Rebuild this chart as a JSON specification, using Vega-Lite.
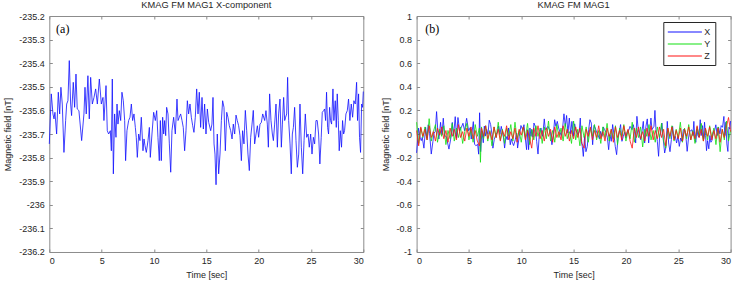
{
"$schema":"https://vega.github.io/schema/vega-lite/v6.json",
"padding":{"left":3.3,"top":0,"right":8,"bottom":0},
"spacing":15.3,
"config":{
 "font":"Liberation Sans",
 "view":{"stroke":null},
 "axis":{"grid":false,"domainColor":"#8c8c8c","tickColor":"#8c8c8c","tickSize":-3,"labelFontSize":9,"labelColor":"#262626","titleFontSize":9,"titleFontWeight":"normal","titleColor":"#262626","labelPadding":8,"titlePadding":6},
 "axisX":{"titlePadding":5},
 "title":{"fontSize":9.3,"fontWeight":"normal","color":"#262626","offset":2,"frame":"group"}
},
"datasets":{
"a":[
{"t":0,"v":-235.742},{"t":0.19,"v":-235.53},{"t":0.35,"v":-235.615},{"t":0.45,"v":-235.636},{"t":0.54,"v":-235.608},{"t":0.7,"v":-235.7},{"t":0.86,"v":-235.523},{"t":0.99,"v":-235.615},{"t":1.11,"v":-235.502},{"t":1.24,"v":-235.573},{"t":1.4,"v":-235.778},{"t":1.56,"v":-235.643},{"t":1.66,"v":-235.573},{"t":1.78,"v":-235.559},{"t":1.91,"v":-235.389},{"t":2.04,"v":-235.573},{"t":2.13,"v":-235.622},{"t":2.29,"v":-235.481},{"t":2.42,"v":-235.587},{"t":2.55,"v":-235.446},{"t":2.67,"v":-235.594},{"t":2.83,"v":-235.601},{"t":3.09,"v":-235.728},{"t":3.31,"v":-235.615},{"t":3.41,"v":-235.502},{"t":3.53,"v":-235.615},{"t":3.69,"v":-235.453},{"t":3.82,"v":-235.636},{"t":3.95,"v":-235.46},{"t":4.11,"v":-235.573},{"t":4.27,"v":-235.545},{"t":4.43,"v":-235.509},{"t":4.59,"v":-235.573},{"t":4.78,"v":-235.467},{"t":4.97,"v":-235.573},{"t":5.13,"v":-235.545},{"t":5.22,"v":-235.643},{"t":5.42,"v":-235.495},{"t":5.54,"v":-235.686},{"t":5.67,"v":-235.7},{"t":5.83,"v":-235.686},{"t":5.93,"v":-235.771},{"t":6.02,"v":-235.467},{"t":6.12,"v":-235.869},{"t":6.24,"v":-235.615},{"t":6.37,"v":-235.714},{"t":6.47,"v":-235.573},{"t":6.56,"v":-235.658},{"t":6.69,"v":-235.601},{"t":6.82,"v":-235.643},{"t":6.94,"v":-235.523},{"t":7.07,"v":-235.559},{"t":7.2,"v":-235.643},{"t":7.29,"v":-235.813},{"t":7.42,"v":-235.686},{"t":7.58,"v":-235.643},{"t":7.71,"v":-235.629},{"t":7.84,"v":-235.573},{"t":7.96,"v":-235.643},{"t":8.09,"v":-235.615},{"t":8.22,"v":-235.672},{"t":8.31,"v":-235.714},{"t":8.41,"v":-235.799},{"t":8.54,"v":-235.7},{"t":8.66,"v":-235.728},{"t":8.79,"v":-235.629},{"t":8.95,"v":-235.771},{"t":9.05,"v":-235.721},{"t":9.14,"v":-235.749},{"t":9.27,"v":-235.778},{"t":9.43,"v":-235.728},{"t":9.56,"v":-235.672},{"t":9.65,"v":-235.799},{"t":9.81,"v":-235.7},{"t":9.97,"v":-235.608},{"t":10.13,"v":-235.643},{"t":10.26,"v":-235.601},{"t":10.38,"v":-235.714},{"t":10.51,"v":-235.813},{"t":10.61,"v":-235.643},{"t":10.7,"v":-235.813},{"t":10.83,"v":-235.629},{"t":10.93,"v":-235.7},{"t":11.02,"v":-235.643},{"t":11.12,"v":-235.707},{"t":11.21,"v":-235.587},{"t":11.34,"v":-235.615},{"t":11.47,"v":-235.742},{"t":11.6,"v":-235.862},{"t":11.72,"v":-235.686},{"t":11.88,"v":-235.629},{"t":12.04,"v":-235.7},{"t":12.2,"v":-235.552},{"t":12.3,"v":-235.643},{"t":12.42,"v":-235.629},{"t":12.55,"v":-235.615},{"t":12.68,"v":-235.643},{"t":12.8,"v":-235.672},{"t":12.93,"v":-235.771},{"t":13.06,"v":-235.686},{"t":13.19,"v":-235.559},{"t":13.31,"v":-235.615},{"t":13.44,"v":-235.573},{"t":13.57,"v":-235.629},{"t":13.7,"v":-235.665},{"t":13.82,"v":-235.693},{"t":13.95,"v":-235.629},{"t":14.08,"v":-235.509},{"t":14.21,"v":-235.615},{"t":14.33,"v":-235.523},{"t":14.46,"v":-235.672},{"t":14.59,"v":-235.545},{"t":14.72,"v":-235.679},{"t":14.84,"v":-235.573},{"t":14.97,"v":-235.7},{"t":15.1,"v":-235.594},{"t":15.23,"v":-235.651},{"t":15.42,"v":-235.686},{"t":15.54,"v":-235.658},{"t":15.64,"v":-235.545},{"t":15.74,"v":-235.742},{"t":15.83,"v":-235.785},{"t":15.93,"v":-235.915},{"t":16.05,"v":-235.7},{"t":16.18,"v":-235.869},{"t":16.31,"v":-235.785},{"t":16.44,"v":-235.643},{"t":16.56,"v":-235.559},{"t":16.69,"v":-235.587},{"t":16.82,"v":-235.771},{"t":16.95,"v":-235.608},{"t":17.07,"v":-235.629},{"t":17.2,"v":-235.665},{"t":17.33,"v":-235.686},{"t":17.46,"v":-235.721},{"t":17.58,"v":-235.658},{"t":17.71,"v":-235.7},{"t":17.84,"v":-235.62},{"t":17.96,"v":-235.643},{"t":18.09,"v":-235.665},{"t":18.22,"v":-235.707},{"t":18.35,"v":-235.813},{"t":18.47,"v":-235.686},{"t":18.6,"v":-235.742},{"t":18.73,"v":-235.6},{"t":18.86,"v":-235.686},{"t":18.98,"v":-235.785},{"t":19.11,"v":-235.855},{"t":19.24,"v":-235.714},{"t":19.37,"v":-235.658},{"t":19.49,"v":-235.6},{"t":19.62,"v":-235.742},{"t":19.75,"v":-235.7},{"t":19.88,"v":-235.665},{"t":20,"v":-235.714},{"t":20.13,"v":-235.658},{"t":20.26,"v":-235.651},{"t":20.39,"v":-235.615},{"t":20.58,"v":-235.643},{"t":20.7,"v":-235.601},{"t":20.83,"v":-235.658},{"t":20.93,"v":-235.756},{"t":21.05,"v":-235.53},{"t":21.18,"v":-235.643},{"t":21.31,"v":-235.7},{"t":21.41,"v":-235.728},{"t":21.53,"v":-235.658},{"t":21.66,"v":-235.573},{"t":21.79,"v":-235.756},{"t":21.91,"v":-235.615},{"t":22.04,"v":-235.552},{"t":22.17,"v":-235.756},{"t":22.27,"v":-235.658},{"t":22.39,"v":-235.545},{"t":22.49,"v":-235.643},{"t":22.58,"v":-235.629},{"t":22.68,"v":-235.615},{"t":22.77,"v":-235.46},{"t":22.87,"v":-235.643},{"t":23,"v":-235.742},{"t":23.12,"v":-235.869},{"t":23.22,"v":-235.7},{"t":23.32,"v":-235.672},{"t":23.44,"v":-235.587},{"t":23.57,"v":-235.728},{"t":23.7,"v":-235.841},{"t":23.83,"v":-235.785},{"t":23.95,"v":-235.573},{"t":24.08,"v":-235.756},{"t":24.21,"v":-235.869},{"t":24.34,"v":-235.728},{"t":24.46,"v":-235.615},{"t":24.59,"v":-235.714},{"t":24.72,"v":-235.7},{"t":24.84,"v":-235.756},{"t":24.97,"v":-235.7},{"t":25.1,"v":-235.785},{"t":25.23,"v":-235.714},{"t":25.35,"v":-235.742},{"t":25.48,"v":-235.643},{"t":25.6,"v":-235.643},{"t":25.73,"v":-235.7},{"t":25.85,"v":-235.827},{"t":25.98,"v":-235.714},{"t":26.08,"v":-235.608},{"t":26.21,"v":-235.601},{"t":26.3,"v":-235.594},{"t":26.4,"v":-235.643},{"t":26.49,"v":-235.523},{"t":26.59,"v":-235.672},{"t":26.68,"v":-235.7},{"t":26.78,"v":-235.587},{"t":26.87,"v":-235.643},{"t":26.97,"v":-235.658},{"t":27.1,"v":-235.509},{"t":27.19,"v":-235.643},{"t":27.32,"v":-235.559},{"t":27.42,"v":-235.672},{"t":27.51,"v":-235.53},{"t":27.61,"v":-235.643},{"t":27.7,"v":-235.771},{"t":27.8,"v":-235.686},{"t":27.92,"v":-235.756},{"t":28.02,"v":-235.643},{"t":28.12,"v":-235.7},{"t":28.21,"v":-235.686},{"t":28.34,"v":-235.615},{"t":28.47,"v":-235.601},{"t":28.59,"v":-235.552},{"t":28.72,"v":-235.643},{"t":28.85,"v":-235.573},{"t":28.98,"v":-235.629},{"t":29.1,"v":-235.559},{"t":29.23,"v":-235.573},{"t":29.36,"v":-235.481},{"t":29.45,"v":-235.643},{"t":29.55,"v":-235.53},{"t":29.64,"v":-235.714},{"t":29.74,"v":-235.778},{"t":29.84,"v":-235.573},{"t":29.93,"v":-235.587},{"t":30,"v":-235.52}
],
"b":[
{"t":0,"c":"X","v":-0.16},{"t":0.19,"c":"X","v":0.05},{"t":0.35,"c":"X","v":-0.035},{"t":0.45,"c":"X","v":-0.056},{"t":0.54,"c":"X","v":-0.028},{"t":0.7,"c":"X","v":-0.12},{"t":0.86,"c":"X","v":0.057},{"t":0.99,"c":"X","v":-0.035},{"t":1.11,"c":"X","v":0.078},{"t":1.24,"c":"X","v":0.007},{"t":1.4,"c":"X","v":-0.17},{"t":1.56,"c":"X","v":-0.063},{"t":1.66,"c":"X","v":0.007},{"t":1.78,"c":"X","v":0.021},{"t":1.91,"c":"X","v":0.19},{"t":2.04,"c":"X","v":0.007},{"t":2.13,"c":"X","v":-0.042},{"t":2.29,"c":"X","v":0.099},{"t":2.42,"c":"X","v":-0.007},{"t":2.55,"c":"X","v":0.134},{"t":2.67,"c":"X","v":-0.014},{"t":2.83,"c":"X","v":-0.021},{"t":3.09,"c":"X","v":-0.128},{"t":3.31,"c":"X","v":-0.015},{"t":3.41,"c":"X","v":0.098},{"t":3.53,"c":"X","v":-0.015},{"t":3.69,"c":"X","v":0.147},{"t":3.82,"c":"X","v":-0.036},{"t":3.95,"c":"X","v":0.14},{"t":4.11,"c":"X","v":0.027},{"t":4.27,"c":"X","v":0.055},{"t":4.43,"c":"X","v":0.091},{"t":4.59,"c":"X","v":0.027},{"t":4.78,"c":"X","v":0.133},{"t":4.97,"c":"X","v":0.027},{"t":5.13,"c":"X","v":0.055},{"t":5.22,"c":"X","v":-0.043},{"t":5.42,"c":"X","v":0.105},{"t":5.54,"c":"X","v":-0.086},{"t":5.67,"c":"X","v":-0.1},{"t":5.83,"c":"X","v":-0.086},{"t":5.93,"c":"X","v":-0.171},{"t":6.02,"c":"X","v":0.18},{"t":6.12,"c":"X","v":-0.15},{"t":6.24,"c":"X","v":0.025},{"t":6.37,"c":"X","v":-0.074},{"t":6.47,"c":"X","v":0.067},{"t":6.56,"c":"X","v":-0.018},{"t":6.69,"c":"X","v":0.039},{"t":6.82,"c":"X","v":-0.003},{"t":6.94,"c":"X","v":0.117},{"t":7.07,"c":"X","v":0.081},{"t":7.2,"c":"X","v":-0.003},{"t":7.29,"c":"X","v":-0.12},{"t":7.42,"c":"X","v":-0.046},{"t":7.58,"c":"X","v":-0.003},{"t":7.71,"c":"X","v":0.011},{"t":7.84,"c":"X","v":0.067},{"t":7.96,"c":"X","v":-0.003},{"t":8.09,"c":"X","v":0.065},{"t":8.22,"c":"X","v":0.008},{"t":8.31,"c":"X","v":-0.034},{"t":8.41,"c":"X","v":-0.119},{"t":8.54,"c":"X","v":-0.02},{"t":8.66,"c":"X","v":-0.048},{"t":8.79,"c":"X","v":0.051},{"t":8.95,"c":"X","v":-0.091},{"t":9.05,"c":"X","v":-0.041},{"t":9.14,"c":"X","v":-0.069},{"t":9.27,"c":"X","v":-0.098},{"t":9.43,"c":"X","v":-0.048},{"t":9.56,"c":"X","v":0.008},{"t":9.65,"c":"X","v":-0.119},{"t":9.81,"c":"X","v":-0.02},{"t":9.97,"c":"X","v":0.072},{"t":10.13,"c":"X","v":0.037},{"t":10.26,"c":"X","v":0.079},{"t":10.38,"c":"X","v":-0.034},{"t":10.51,"c":"X","v":-0.133},{"t":10.61,"c":"X","v":0.037},{"t":10.7,"c":"X","v":-0.133},{"t":10.83,"c":"X","v":0.051},{"t":10.93,"c":"X","v":-0.02},{"t":11.02,"c":"X","v":0.037},{"t":11.12,"c":"X","v":-0.027},{"t":11.21,"c":"X","v":0.093},{"t":11.34,"c":"X","v":0.065},{"t":11.47,"c":"X","v":-0.062},{"t":11.6,"c":"X","v":-0.17},{"t":11.72,"c":"X","v":-0.006},{"t":11.88,"c":"X","v":0.051},{"t":12.04,"c":"X","v":-0.02},{"t":12.2,"c":"X","v":0.128},{"t":12.3,"c":"X","v":0.037},{"t":12.42,"c":"X","v":0.051},{"t":12.55,"c":"X","v":0.065},{"t":12.68,"c":"X","v":0.037},{"t":12.8,"c":"X","v":0.008},{"t":12.93,"c":"X","v":-0.091},{"t":13.06,"c":"X","v":-0.006},{"t":13.19,"c":"X","v":0.121},{"t":13.31,"c":"X","v":0.065},{"t":13.44,"c":"X","v":0.107},{"t":13.57,"c":"X","v":0.051},{"t":13.7,"c":"X","v":0.015},{"t":13.82,"c":"X","v":-0.013},{"t":13.95,"c":"X","v":0.051},{"t":14.08,"c":"X","v":0.171},{"t":14.21,"c":"X","v":0.065},{"t":14.33,"c":"X","v":0.157},{"t":14.46,"c":"X","v":0.008},{"t":14.59,"c":"X","v":0.135},{"t":14.72,"c":"X","v":0.001},{"t":14.84,"c":"X","v":0.107},{"t":14.97,"c":"X","v":-0.02},{"t":15.1,"c":"X","v":0.086},{"t":15.23,"c":"X","v":0.029},{"t":15.42,"c":"X","v":-0.006},{"t":15.54,"c":"X","v":0.022},{"t":15.64,"c":"X","v":0.135},{"t":15.74,"c":"X","v":-0.062},{"t":15.83,"c":"X","v":-0.105},{"t":15.93,"c":"X","v":-0.19},{"t":16.05,"c":"X","v":-0.02},{"t":16.18,"c":"X","v":-0.15},{"t":16.31,"c":"X","v":-0.105},{"t":16.44,"c":"X","v":0.037},{"t":16.56,"c":"X","v":0.121},{"t":16.69,"c":"X","v":0.093},{"t":16.82,"c":"X","v":-0.091},{"t":16.95,"c":"X","v":0.072},{"t":17.07,"c":"X","v":0.051},{"t":17.2,"c":"X","v":0.015},{"t":17.33,"c":"X","v":-0.006},{"t":17.46,"c":"X","v":-0.041},{"t":17.58,"c":"X","v":0.022},{"t":17.71,"c":"X","v":-0.02},{"t":17.84,"c":"X","v":0.06},{"t":17.96,"c":"X","v":0.037},{"t":18.09,"c":"X","v":0.015},{"t":18.22,"c":"X","v":-0.027},{"t":18.35,"c":"X","v":-0.133},{"t":18.47,"c":"X","v":-0.006},{"t":18.6,"c":"X","v":-0.062},{"t":18.73,"c":"X","v":0.08},{"t":18.86,"c":"X","v":-0.006},{"t":18.98,"c":"X","v":-0.105},{"t":19.11,"c":"X","v":-0.175},{"t":19.24,"c":"X","v":-0.034},{"t":19.37,"c":"X","v":0.022},{"t":19.49,"c":"X","v":0.08},{"t":19.62,"c":"X","v":-0.062},{"t":19.75,"c":"X","v":-0.02},{"t":19.88,"c":"X","v":0.015},{"t":20,"c":"X","v":-0.034},{"t":20.13,"c":"X","v":0.022},{"t":20.26,"c":"X","v":0.029},{"t":20.39,"c":"X","v":0.065},{"t":20.58,"c":"X","v":0.037},{"t":20.7,"c":"X","v":0.079},{"t":20.83,"c":"X","v":0.022},{"t":20.93,"c":"X","v":-0.076},{"t":21.05,"c":"X","v":0.15},{"t":21.18,"c":"X","v":0.037},{"t":21.31,"c":"X","v":-0.02},{"t":21.41,"c":"X","v":-0.048},{"t":21.53,"c":"X","v":0.022},{"t":21.66,"c":"X","v":0.107},{"t":21.79,"c":"X","v":-0.076},{"t":21.91,"c":"X","v":0.065},{"t":22.04,"c":"X","v":0.128},{"t":22.17,"c":"X","v":-0.076},{"t":22.27,"c":"X","v":0.022},{"t":22.39,"c":"X","v":0.135},{"t":22.49,"c":"X","v":0.037},{"t":22.58,"c":"X","v":0.051},{"t":22.68,"c":"X","v":0.065},{"t":22.77,"c":"X","v":0.2},{"t":22.87,"c":"X","v":0.037},{"t":23,"c":"X","v":-0.062},{"t":23.12,"c":"X","v":-0.189},{"t":23.22,"c":"X","v":-0.02},{"t":23.32,"c":"X","v":0.008},{"t":23.44,"c":"X","v":0.093},{"t":23.57,"c":"X","v":-0.048},{"t":23.7,"c":"X","v":-0.161},{"t":23.83,"c":"X","v":-0.105},{"t":23.95,"c":"X","v":0.107},{"t":24.08,"c":"X","v":-0.076},{"t":24.21,"c":"X","v":-0.15},{"t":24.34,"c":"X","v":-0.048},{"t":24.46,"c":"X","v":0.065},{"t":24.59,"c":"X","v":-0.034},{"t":24.72,"c":"X","v":-0.02},{"t":24.84,"c":"X","v":-0.076},{"t":24.97,"c":"X","v":-0.02},{"t":25.1,"c":"X","v":-0.105},{"t":25.23,"c":"X","v":-0.034},{"t":25.35,"c":"X","v":-0.062},{"t":25.48,"c":"X","v":0.037},{"t":25.6,"c":"X","v":0.037},{"t":25.73,"c":"X","v":-0.02},{"t":25.85,"c":"X","v":-0.147},{"t":25.98,"c":"X","v":-0.034},{"t":26.08,"c":"X","v":0.022},{"t":26.21,"c":"X","v":0.029},{"t":26.3,"c":"X","v":0.036},{"t":26.4,"c":"X","v":-0.013},{"t":26.49,"c":"X","v":0.107},{"t":26.59,"c":"X","v":-0.042},{"t":26.68,"c":"X","v":-0.07},{"t":26.78,"c":"X","v":0.043},{"t":26.87,"c":"X","v":-0.013},{"t":26.97,"c":"X","v":-0.028},{"t":27.1,"c":"X","v":0.121},{"t":27.19,"c":"X","v":-0.013},{"t":27.32,"c":"X","v":0.071},{"t":27.42,"c":"X","v":-0.042},{"t":27.51,"c":"X","v":0.1},{"t":27.61,"c":"X","v":-0.013},{"t":27.7,"c":"X","v":-0.141},{"t":27.8,"c":"X","v":-0.056},{"t":27.92,"c":"X","v":-0.126},{"t":28.02,"c":"X","v":-0.013},{"t":28.12,"c":"X","v":-0.07},{"t":28.21,"c":"X","v":-0.056},{"t":28.34,"c":"X","v":0.015},{"t":28.47,"c":"X","v":0.029},{"t":28.59,"c":"X","v":0.078},{"t":28.72,"c":"X","v":-0.013},{"t":28.85,"c":"X","v":0.057},{"t":28.98,"c":"X","v":0.001},{"t":29.1,"c":"X","v":0.071},{"t":29.23,"c":"X","v":0.057},{"t":29.36,"c":"X","v":0.149},{"t":29.45,"c":"X","v":-0.013},{"t":29.55,"c":"X","v":0.1},{"t":29.64,"c":"X","v":-0.084},{"t":29.74,"c":"X","v":-0.148},{"t":29.84,"c":"X","v":0.057},{"t":29.93,"c":"X","v":0.043},{"t":30,"c":"X","v":0.11},
{"t":0,"c":"Y","v":0.1},{"t":0.2,"c":"Y","v":-0.08},{"t":0.4,"c":"Y","v":0.05},{"t":0.6,"c":"Y","v":-0.03},{"t":0.8,"c":"Y","v":0.06},{"t":1,"c":"Y","v":-0.05},{"t":1.2,"c":"Y","v":0.13},{"t":1.4,"c":"Y","v":-0.06},{"t":1.6,"c":"Y","v":0.02},{"t":1.8,"c":"Y","v":0.08},{"t":2,"c":"Y","v":-0.07},{"t":2.2,"c":"Y","v":0.04},{"t":2.4,"c":"Y","v":-0.02},{"t":2.6,"c":"Y","v":0.07},{"t":2.8,"c":"Y","v":-0.09},{"t":3,"c":"Y","v":0.03},{"t":3.2,"c":"Y","v":-0.04},{"t":3.4,"c":"Y","v":0.09},{"t":3.6,"c":"Y","v":-0.06},{"t":3.8,"c":"Y","v":0.05},{"t":4,"c":"Y","v":-0.03},{"t":4.2,"c":"Y","v":0.06},{"t":4.4,"c":"Y","v":-0.08},{"t":4.6,"c":"Y","v":0.02},{"t":4.8,"c":"Y","v":0.09},{"t":5,"c":"Y","v":-0.05},{"t":5.2,"c":"Y","v":0.04},{"t":5.4,"c":"Y","v":-0.07},{"t":5.6,"c":"Y","v":0.08},{"t":5.8,"c":"Y","v":-0.02},{"t":6,"c":"Y","v":0.05},{"t":6.1,"c":"Y","v":-0.24},{"t":6.2,"c":"Y","v":0.06},{"t":6.4,"c":"Y","v":-0.04},{"t":6.6,"c":"Y","v":0.07},{"t":6.8,"c":"Y","v":-0.06},{"t":7,"c":"Y","v":0.03},{"t":7.2,"c":"Y","v":-0.1},{"t":7.4,"c":"Y","v":0.06},{"t":7.6,"c":"Y","v":-0.03},{"t":7.8,"c":"Y","v":0.1},{"t":8,"c":"Y","v":-0.05},{"t":8.2,"c":"Y","v":0.04},{"t":8.4,"c":"Y","v":-0.08},{"t":8.6,"c":"Y","v":0.05},{"t":8.8,"c":"Y","v":-0.02},{"t":9,"c":"Y","v":0.08},{"t":9.2,"c":"Y","v":-0.06},{"t":9.4,"c":"Y","v":0.1},{"t":9.6,"c":"Y","v":-0.04},{"t":9.8,"c":"Y","v":0.03},{"t":10,"c":"Y","v":-0.07},{"t":10.2,"c":"Y","v":0.06},{"t":10.4,"c":"Y","v":-0.03},{"t":10.6,"c":"Y","v":0.09},{"t":10.8,"c":"Y","v":-0.09},{"t":11,"c":"Y","v":0.04},{"t":11.2,"c":"Y","v":-0.05},{"t":11.4,"c":"Y","v":0.07},{"t":11.6,"c":"Y","v":-0.02},{"t":11.8,"c":"Y","v":0.05},{"t":12,"c":"Y","v":-0.08},{"t":12.2,"c":"Y","v":0.06},{"t":12.4,"c":"Y","v":-0.04},{"t":12.6,"c":"Y","v":0.11},{"t":12.8,"c":"Y","v":-0.06},{"t":13,"c":"Y","v":0.03},{"t":13.2,"c":"Y","v":-0.07},{"t":13.4,"c":"Y","v":0.08},{"t":13.6,"c":"Y","v":-0.03},{"t":13.8,"c":"Y","v":0.05},{"t":14,"c":"Y","v":-0.06},{"t":14.2,"c":"Y","v":0.09},{"t":14.4,"c":"Y","v":-0.04},{"t":14.6,"c":"Y","v":0.02},{"t":14.8,"c":"Y","v":-0.08},{"t":15,"c":"Y","v":0.11},{"t":15.2,"c":"Y","v":-0.05},{"t":15.4,"c":"Y","v":0.04},{"t":15.6,"c":"Y","v":-0.1},{"t":15.8,"c":"Y","v":0.07},{"t":16,"c":"Y","v":-0.03},{"t":16.2,"c":"Y","v":0.06},{"t":16.4,"c":"Y","v":-0.07},{"t":16.6,"c":"Y","v":0.05},{"t":16.8,"c":"Y","v":-0.02},{"t":17,"c":"Y","v":0.08},{"t":17.2,"c":"Y","v":-0.05},{"t":17.4,"c":"Y","v":0.03},{"t":17.6,"c":"Y","v":-0.08},{"t":17.8,"c":"Y","v":0.06},{"t":18,"c":"Y","v":-0.03},{"t":18.2,"c":"Y","v":0.09},{"t":18.4,"c":"Y","v":-0.06},{"t":18.6,"c":"Y","v":0.04},{"t":18.8,"c":"Y","v":-0.04},{"t":19,"c":"Y","v":0.07},{"t":19.2,"c":"Y","v":-0.09},{"t":19.4,"c":"Y","v":0.05},{"t":19.6,"c":"Y","v":-0.02},{"t":19.8,"c":"Y","v":0.08},{"t":20,"c":"Y","v":-0.06},{"t":20.2,"c":"Y","v":0.03},{"t":20.4,"c":"Y","v":-0.04},{"t":20.6,"c":"Y","v":0.1},{"t":20.8,"c":"Y","v":-0.07},{"t":21,"c":"Y","v":0.05},{"t":21.2,"c":"Y","v":-0.03},{"t":21.4,"c":"Y","v":0.06},{"t":21.6,"c":"Y","v":-0.11},{"t":21.8,"c":"Y","v":0.04},{"t":22,"c":"Y","v":-0.02},{"t":22.2,"c":"Y","v":0.08},{"t":22.4,"c":"Y","v":-0.05},{"t":22.6,"c":"Y","v":0.03},{"t":22.8,"c":"Y","v":-0.07},{"t":23,"c":"Y","v":0.06},{"t":23.2,"c":"Y","v":-0.03},{"t":23.4,"c":"Y","v":0.09},{"t":23.6,"c":"Y","v":-0.06},{"t":23.8,"c":"Y","v":-0.12},{"t":24,"c":"Y","v":0.05},{"t":24.2,"c":"Y","v":-0.04},{"t":24.4,"c":"Y","v":0.07},{"t":24.6,"c":"Y","v":-0.06},{"t":24.8,"c":"Y","v":0.04},{"t":25,"c":"Y","v":-0.03},{"t":25.2,"c":"Y","v":0.1},{"t":25.4,"c":"Y","v":-0.07},{"t":25.6,"c":"Y","v":0.05},{"t":25.8,"c":"Y","v":-0.04},{"t":26,"c":"Y","v":0.08},{"t":26.2,"c":"Y","v":-0.05},{"t":26.4,"c":"Y","v":0.03},{"t":26.6,"c":"Y","v":-0.08},{"t":26.8,"c":"Y","v":0.06},{"t":27,"c":"Y","v":-0.02},{"t":27.2,"c":"Y","v":0.09},{"t":27.4,"c":"Y","v":-0.06},{"t":27.6,"c":"Y","v":0.04},{"t":27.8,"c":"Y","v":-0.05},{"t":28,"c":"Y","v":0.07},{"t":28.2,"c":"Y","v":-0.03},{"t":28.4,"c":"Y","v":0.05},{"t":28.6,"c":"Y","v":-0.09},{"t":28.8,"c":"Y","v":0.06},{"t":29,"c":"Y","v":-0.15},{"t":29.2,"c":"Y","v":0.04},{"t":29.4,"c":"Y","v":-0.05},{"t":29.6,"c":"Y","v":0.11},{"t":29.8,"c":"Y","v":-0.06},{"t":30,"c":"Y","v":0.03},
{"t":0,"c":"Z","v":0.03},{"t":0.2,"c":"Z","v":-0.1},{"t":0.4,"c":"Z","v":0.06},{"t":0.6,"c":"Z","v":-0.02},{"t":0.8,"c":"Z","v":0.04},{"t":1,"c":"Z","v":-0.05},{"t":1.2,"c":"Z","v":0.07},{"t":1.4,"c":"Z","v":-0.03},{"t":1.6,"c":"Z","v":0.02},{"t":1.8,"c":"Z","v":-0.06},{"t":2,"c":"Z","v":0.05},{"t":2.2,"c":"Z","v":-0.01},{"t":2.4,"c":"Z","v":0.06},{"t":2.6,"c":"Z","v":-0.04},{"t":2.8,"c":"Z","v":0.03},{"t":3,"c":"Z","v":-0.07},{"t":3.2,"c":"Z","v":0.05},{"t":3.4,"c":"Z","v":-0.02},{"t":3.6,"c":"Z","v":0.04},{"t":3.8,"c":"Z","v":-0.05},{"t":4,"c":"Z","v":0.08},{"t":4.2,"c":"Z","v":-0.03},{"t":4.4,"c":"Z","v":0.02},{"t":4.6,"c":"Z","v":-0.06},{"t":4.8,"c":"Z","v":0.05},{"t":5,"c":"Z","v":-0.02},{"t":5.2,"c":"Z","v":0.06},{"t":5.4,"c":"Z","v":-0.04},{"t":5.6,"c":"Z","v":0.03},{"t":5.8,"c":"Z","v":-0.06},{"t":6,"c":"Z","v":-0.1},{"t":6.2,"c":"Z","v":0.05},{"t":6.4,"c":"Z","v":-0.02},{"t":6.6,"c":"Z","v":0.07},{"t":6.8,"c":"Z","v":-0.04},{"t":7,"c":"Z","v":0.02},{"t":7.2,"c":"Z","v":-0.05},{"t":7.4,"c":"Z","v":0.06},{"t":7.6,"c":"Z","v":-0.03},{"t":7.8,"c":"Z","v":0.04},{"t":8,"c":"Z","v":-0.06},{"t":8.2,"c":"Z","v":0.03},{"t":8.4,"c":"Z","v":-0.02},{"t":8.6,"c":"Z","v":0.07},{"t":8.8,"c":"Z","v":-0.05},{"t":9,"c":"Z","v":0.02},{"t":9.2,"c":"Z","v":-0.04},{"t":9.4,"c":"Z","v":0.05},{"t":9.6,"c":"Z","v":-0.07},{"t":9.8,"c":"Z","v":0.04},{"t":10,"c":"Z","v":-0.01},{"t":10.2,"c":"Z","v":0.06},{"t":10.4,"c":"Z","v":-0.05},{"t":10.6,"c":"Z","v":0.03},{"t":10.8,"c":"Z","v":-0.04},{"t":11,"c":"Z","v":-0.12},{"t":11.2,"c":"Z","v":0.05},{"t":11.4,"c":"Z","v":-0.02},{"t":11.6,"c":"Z","v":0.07},{"t":11.8,"c":"Z","v":-0.04},{"t":12,"c":"Z","v":0.03},{"t":12.2,"c":"Z","v":-0.06},{"t":12.4,"c":"Z","v":0.05},{"t":12.6,"c":"Z","v":-0.02},{"t":12.8,"c":"Z","v":0.04},{"t":13,"c":"Z","v":-0.07},{"t":13.2,"c":"Z","v":0.06},{"t":13.4,"c":"Z","v":-0.03},{"t":13.6,"c":"Z","v":0.02},{"t":13.8,"c":"Z","v":-0.05},{"t":14,"c":"Z","v":0.07},{"t":14.2,"c":"Z","v":-0.02},{"t":14.4,"c":"Z","v":0.04},{"t":14.6,"c":"Z","v":-0.06},{"t":14.8,"c":"Z","v":0.03},{"t":15,"c":"Z","v":-0.04},{"t":15.2,"c":"Z","v":0.06},{"t":15.4,"c":"Z","v":-0.03},{"t":15.6,"c":"Z","v":0.05},{"t":15.8,"c":"Z","v":-0.08},{"t":16,"c":"Z","v":-0.12},{"t":16.2,"c":"Z","v":0.04},{"t":16.4,"c":"Z","v":-0.02},{"t":16.6,"c":"Z","v":0.06},{"t":16.8,"c":"Z","v":-0.05},{"t":17,"c":"Z","v":0.03},{"t":17.2,"c":"Z","v":-0.03},{"t":17.4,"c":"Z","v":0.07},{"t":17.6,"c":"Z","v":-0.04},{"t":17.8,"c":"Z","v":0.02},{"t":18,"c":"Z","v":-0.06},{"t":18.2,"c":"Z","v":0.05},{"t":18.4,"c":"Z","v":-0.02},{"t":18.6,"c":"Z","v":0.04},{"t":18.8,"c":"Z","v":-0.07},{"t":19,"c":"Z","v":0.06},{"t":19.2,"c":"Z","v":-0.03},{"t":19.4,"c":"Z","v":0.03},{"t":19.6,"c":"Z","v":-0.05},{"t":19.8,"c":"Z","v":0.07},{"t":20,"c":"Z","v":-0.02},{"t":20.2,"c":"Z","v":0.04},{"t":20.4,"c":"Z","v":-0.06},{"t":20.6,"c":"Z","v":-0.12},{"t":20.8,"c":"Z","v":0.05},{"t":21,"c":"Z","v":-0.03},{"t":21.2,"c":"Z","v":0.06},{"t":21.4,"c":"Z","v":-0.04},{"t":21.6,"c":"Z","v":0.02},{"t":21.8,"c":"Z","v":-0.06},{"t":22,"c":"Z","v":0.05},{"t":22.2,"c":"Z","v":-0.02},{"t":22.4,"c":"Z","v":0.07},{"t":22.6,"c":"Z","v":-0.05},{"t":22.8,"c":"Z","v":0.03},{"t":23,"c":"Z","v":-0.04},{"t":23.2,"c":"Z","v":0.06},{"t":23.4,"c":"Z","v":-0.03},{"t":23.6,"c":"Z","v":0.04},{"t":23.8,"c":"Z","v":-0.1},{"t":24,"c":"Z","v":0.05},{"t":24.2,"c":"Z","v":-0.02},{"t":24.4,"c":"Z","v":0.06},{"t":24.6,"c":"Z","v":-0.05},{"t":24.8,"c":"Z","v":0.03},{"t":25,"c":"Z","v":-0.04},{"t":25.2,"c":"Z","v":0.05},{"t":25.4,"c":"Z","v":-0.06},{"t":25.6,"c":"Z","v":0.04},{"t":25.8,"c":"Z","v":-0.02},{"t":26,"c":"Z","v":0.06},{"t":26.2,"c":"Z","v":-0.05},{"t":26.4,"c":"Z","v":0.02},{"t":26.6,"c":"Z","v":-0.04},{"t":26.8,"c":"Z","v":0.07},{"t":27,"c":"Z","v":-0.03},{"t":27.2,"c":"Z","v":0.04},{"t":27.4,"c":"Z","v":-0.06},{"t":27.6,"c":"Z","v":0.05},{"t":27.8,"c":"Z","v":-0.02},{"t":28,"c":"Z","v":0.06},{"t":28.2,"c":"Z","v":-0.05},{"t":28.4,"c":"Z","v":0.03},{"t":28.6,"c":"Z","v":-0.04},{"t":28.8,"c":"Z","v":0.05},{"t":29,"c":"Z","v":-0.07},{"t":29.2,"c":"Z","v":0.04},{"t":29.4,"c":"Z","v":-0.03},{"t":29.6,"c":"Z","v":0.06},{"t":29.8,"c":"Z","v":0.14},{"t":30,"c":"Z","v":0.02}
]
},
"hconcat":[
 {
  "width":314,"height":236,
  "title":{"text":"KMAG FM MAG1 X-component"},
  "data":{"name":"a"},
  "layer":[
   {"mark":{"type":"line","color":"#1010ff","strokeWidth":0.8},
    "encoding":{
     "x":{"field":"t","type":"quantitative","scale":{"domain":[0,30],"nice":false,"zero":false},"axis":{"orient":"bottom","values":[0,5,10,15,20,25,30],"format":"d","title":"Time [sec]"}},
     "y":{"field":"v","type":"quantitative","scale":{"domain":[-236.2,-235.2],"nice":false,"zero":false},"axis":{"orient":"left","values":[-236.2,-236.1,-236,-235.9,-235.8,-235.7,-235.6,-235.5,-235.4,-235.3,-235.2],"labelExpr":"'' + datum.value","title":"Magnetic field [nT]"}}
    }},
   {"mark":{"type":"line","opacity":0},
    "encoding":{
     "x":{"field":"t","type":"quantitative","axis":{"orient":"top","values":[0,5,10,15,20,25,30],"labels":false,"title":null}},
     "y":{"field":"v","type":"quantitative","axis":{"orient":"right","values":[-236.2,-236.1,-236,-235.9,-235.8,-235.7,-235.6,-235.5,-235.4,-235.3,-235.2],"labels":false,"title":null}}
    }},
   {"data":{"values":[{"label":"(a)"}]},
    "mark":{"type":"text","font":"Liberation Serif","fontSize":12,"align":"left","baseline":"middle","color":"#000"},
    "encoding":{
     "x":{"datum":0.65,"type":"quantitative","axis":null},
     "y":{"datum":-235.255,"type":"quantitative","axis":null},
     "text":{"field":"label"}
    }}
  ],
  "resolve":{"axis":{"x":"independent","y":"independent"}}
 },
 {
  "width":314,"height":236,
  "title":{"text":"KMAG FM MAG1"},
  "data":{"name":"b"},
  "layer":[
   {"mark":{"type":"line","strokeWidth":0.8},
    "encoding":{
     "x":{"field":"t","type":"quantitative","scale":{"domain":[0,30],"nice":false,"zero":false},"axis":{"orient":"bottom","values":[0,5,10,15,20,25,30],"format":"d","title":"Time [sec]"}},
     "y":{"field":"v","type":"quantitative","scale":{"domain":[-1,1],"nice":false,"zero":false},"axis":{"orient":"left","values":[-1,-0.8,-0.6,-0.4,-0.2,0,0.2,0.4,0.6,0.8,1],"labelExpr":"'' + datum.value","title":"Magnetic field [nT]"}},
     "color":{"field":"c","type":"nominal","scale":{"domain":["X","Y","Z"],"range":["#1010ff","#10e010","#ff1010"]},
      "legend":{"title":null,"orient":"none","legendX":614,"legendY":6,"symbolType":"M-1,0H5.2","symbolSize":121,"symbolStrokeWidth":1,"labelOffset":25,"labelFontSize":9,"labelColor":"#262626","strokeColor":"#262626","fillColor":"#ffffff","padding":4,"rowPadding":1}}
    }},
   {"mark":{"type":"line","opacity":0},
    "encoding":{
     "x":{"field":"t","type":"quantitative","axis":{"orient":"top","values":[0,5,10,15,20,25,30],"labels":false,"title":null}},
     "y":{"field":"v","type":"quantitative","axis":{"orient":"right","values":[-1,-0.8,-0.6,-0.4,-0.2,0,0.2,0.4,0.6,0.8,1],"labels":false,"title":null}}
    }},
   {"data":{"values":[{"label":"(b)"}]},
    "mark":{"type":"text","font":"Liberation Serif","fontSize":12,"align":"left","baseline":"middle","color":"#000"},
    "encoding":{
     "x":{"datum":0.83,"type":"quantitative","axis":null},
     "y":{"datum":0.89,"type":"quantitative","axis":null},
     "text":{"field":"label"}
    }}
  ],
  "resolve":{"axis":{"x":"independent","y":"independent"}}
 }
]
}
